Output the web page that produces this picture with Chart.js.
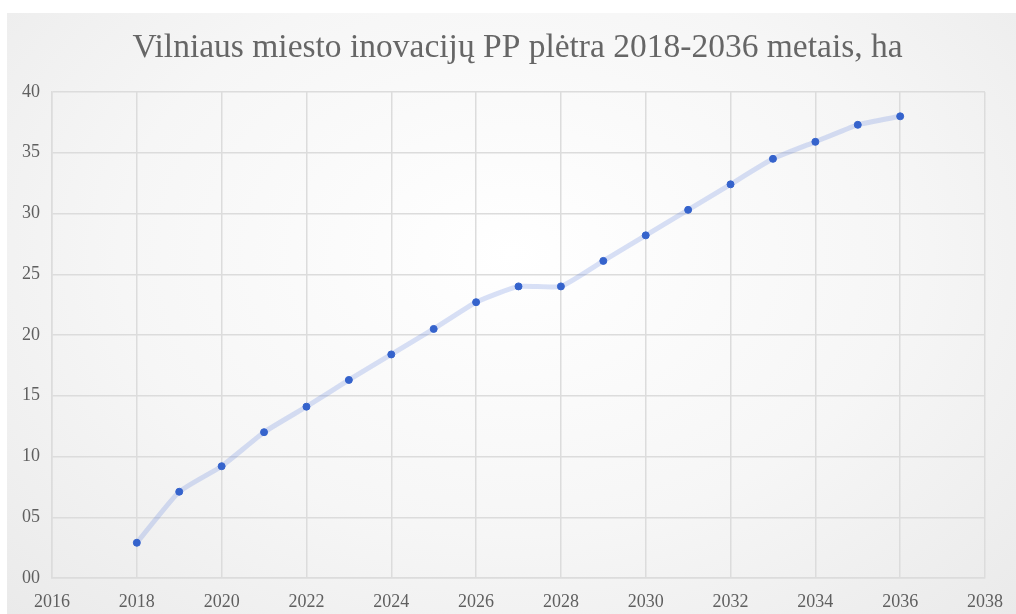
<!DOCTYPE html>
<html>
<head>
<meta charset="utf-8">
<script src="https://cdn.jsdelivr.net/npm/chart.js@4"></script>
<style>
  html, body { margin: 0; padding: 0; background: #fff; }
  body { width: 1016px; height: 614px; overflow: hidden; position: relative; }
  .card {
    position: absolute; left: 7px; top: 13px; width: 1009px; height: 601px;
    background: radial-gradient(ellipse at 50% 40%, #ffffff 0%, #f6f6f6 55%, #eaeaea 100%);
  }
</style>
</head>
<body>
<div class="card"><canvas id="chart" width="1009" height="601"></canvas></div>
<script>
  // values
  const years = [2018, 2019, 2020, 2021, 2022, 2023, 2024, 2025, 2026, 2027,
                 2028, 2029, 2030, 2031, 2032, 2033, 2034, 2035, 2036];
  const hectares = [2.9, 7.1, 9.2, 12.0, 14.1, 16.3, 18.4, 20.5, 22.7, 24.0,
                    24.0, 26.1, 28.2, 30.3, 32.4, 34.5, 35.9, 37.3, 38.0];
  const xTicks = [2016, 2018, 2020, 2022, 2024, 2026, 2028, 2030, 2032, 2034, 2036, 2038];
  const yTicks = [0, 5, 10, 15, 20, 25, 30, 35, 40];
  const titleText = 'Vilniaus miesto inovacijų PP plėtra 2018-2036 metais, ha';

  const serif = "'Liberation Serif', 'DejaVu Serif', serif";
  const points = years.map((y, i) => ({ x: y, y: hectares[i] }));

  // title drawn by hand so it can sit centred on the whole card, not the padded box
  const titlePlugin = {
    id: 'cardTitle',
    afterDraw(chart) {
      const ctx = chart.ctx;
      ctx.save();
      ctx.font = '33.5px ' + serif;
      ctx.fillStyle = '#666';
      ctx.textAlign = 'center';
      ctx.textBaseline = 'middle';
      ctx.fillText(titleText, chart.width / 2 + 6, 35);
      ctx.restore();
    }
  };

  new Chart(document.getElementById('chart'), {
    type: 'line',
    data: {
      datasets: [{
        data: points,
        borderColor: 'rgba(80, 120, 220, 0.22)',
        borderWidth: 5,
        tension: 0.15,
        pointBackgroundColor: '#3563cc',
        pointBorderColor: '#3563cc',
        pointRadius: 3.5,
        pointBorderWidth: 1
      }]
    },
    options: {
      responsive: false,
      animation: false,
      layout: { padding: { left: 0, right: 30, top: 79, bottom: 0 } },
      plugins: {
        legend: { display: false },
        tooltip: { enabled: false },
        title: { display: false }
      },
      scales: {
        x: {
          type: 'linear',
          min: 2016,
          max: 2038,
          afterBuildTicks: (s) => { s.ticks = xTicks.map(v => ({ value: v })); },
          afterFit: (s) => { s.height = 36; },
          grid: { color: '#dcdcdc', lineWidth: 1.5, drawTicks: false },
          border: { color: '#dcdcdc', width: 1.5 },
          ticks: {
            padding: 13,
            color: '#5f5f5f',
            font: { family: serif, size: 18 },
            callback: (v) => String(v)
          }
        },
        y: {
          min: 0,
          max: 40,
          afterBuildTicks: (s) => { s.ticks = yTicks.map(v => ({ value: v })); },
          afterFit: (s) => { s.width = 45; },
          grid: { color: '#dcdcdc', lineWidth: 1.5, drawTicks: false },
          border: { color: '#dcdcdc', width: 1.5 },
          ticks: {
            padding: 12,
            color: '#5f5f5f',
            font: { family: serif, size: 18 },
            callback: (v) => String(v).padStart(2, '0')
          }
        }
      }
    },
    plugins: [titlePlugin]
  });
</script>
</body>
</html>
